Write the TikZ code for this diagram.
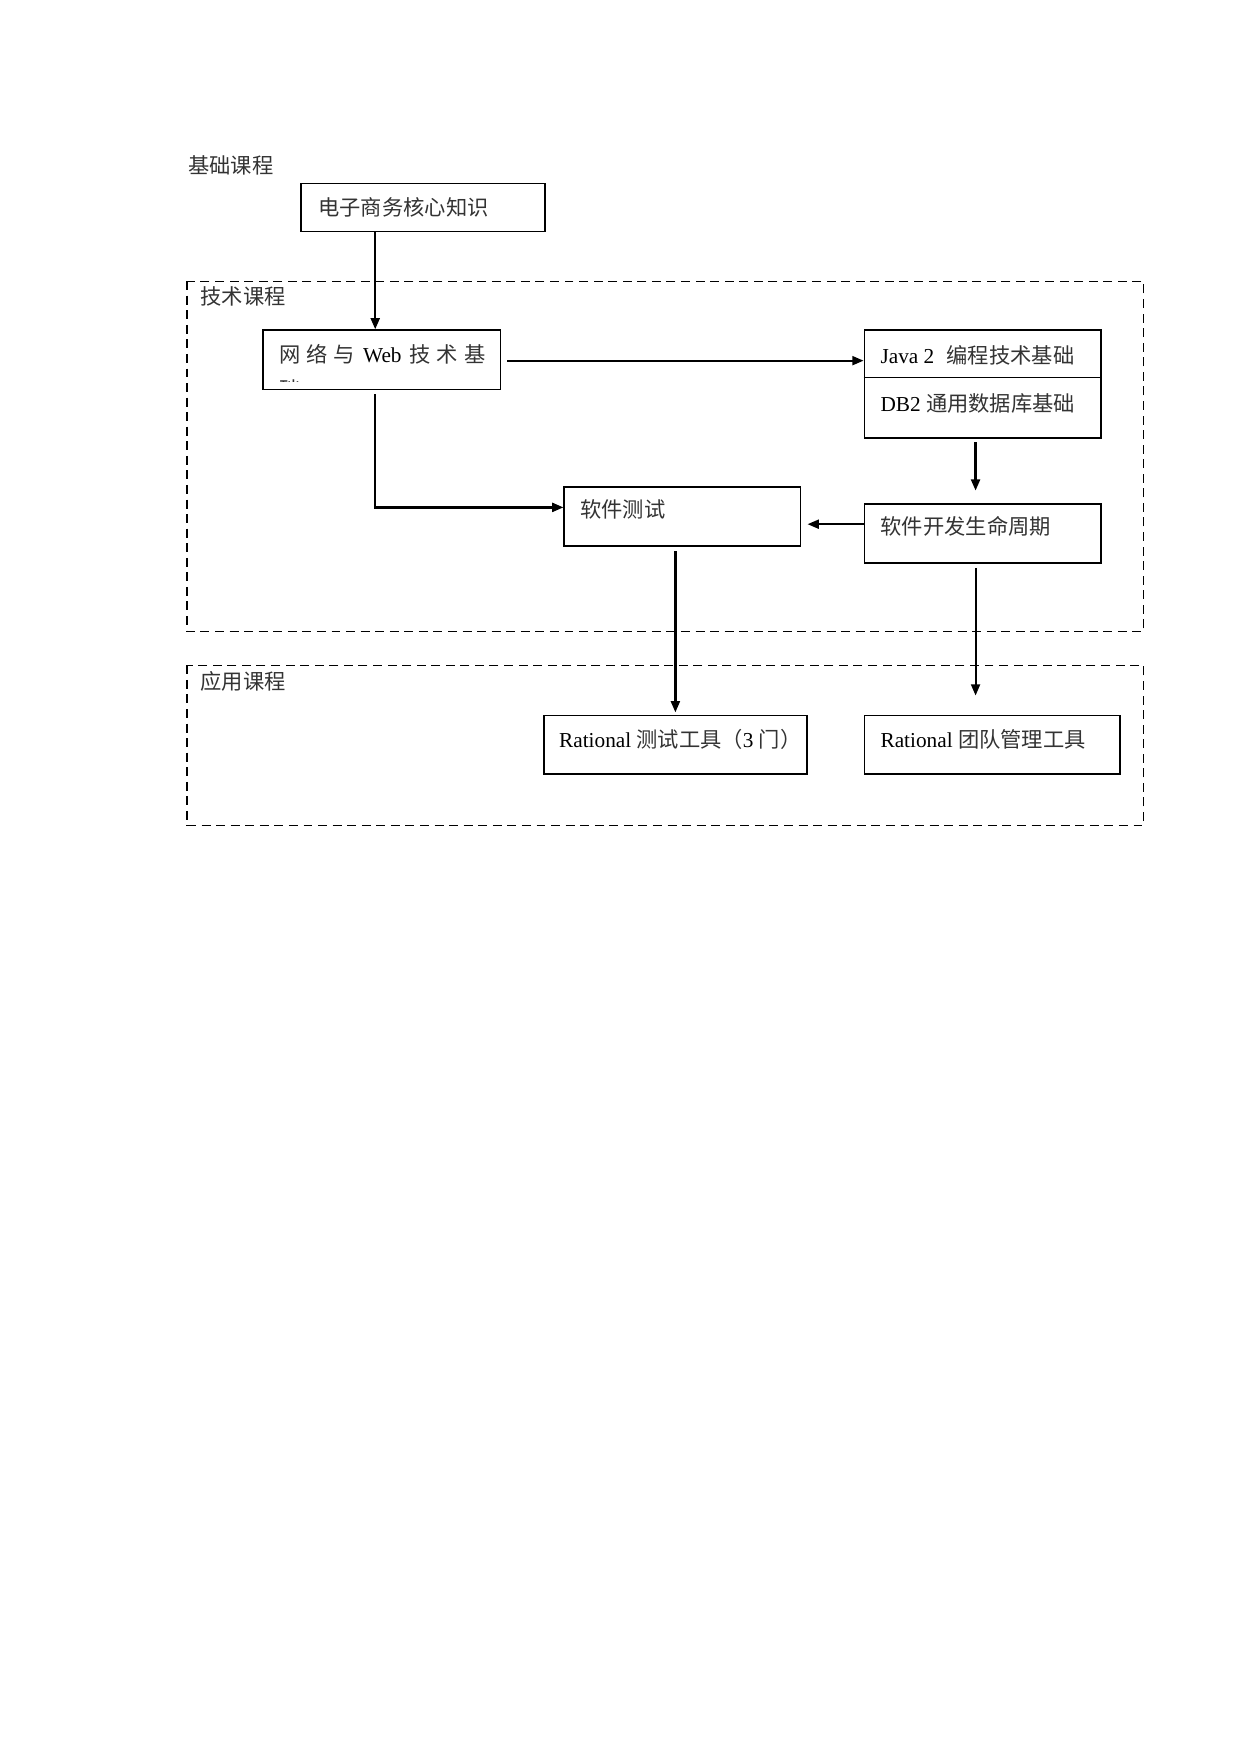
\documentclass[tikz,border=0pt]{standalone}
\usepackage{fontspec}
\setmainfont{Liberation Serif}
\newfontfamily\cjk{Noto Sans CJK SC}
\usetikzlibrary{arrows.meta}
\newcommand{\zh}[1]{{\cjk\fontsize{19}{22}\selectfont\color{black!80}#1}}
\begin{document}
\begin{tikzpicture}[x=1pt,y=-1pt,
  box/.style={draw, line width=1.5pt, inner sep=0pt, anchor=north west},
  grp/.style={draw, dash pattern=on 8pt off 5pt, line width=1.1pt},
  lbl/.style={anchor=west, inner sep=0pt, font=\fontsize{19}{22}\selectfont\cjk, text=black!80},
  txt/.style={anchor=west, inner sep=0pt, font=\fontsize{19}{22}\selectfont},
  arr/.style={-{Triangle[length=10pt,width=8pt]}, line width=2pt},
  tarr/.style={-{Triangle[length=10pt,width=8pt]}, line width=1.7pt}]
\useasboundingbox (0,0) rectangle (1108,1566);

% groups
\draw[grp] (167,251) rectangle (1021,564);
\draw[grp] (167,594) rectangle (1021,737);
\node[lbl] (g0) at (168,148) {基础课程};
\node[lbl] (g1) at (179,265) {技术课程};
\node[lbl] (g2) at (179,608) {应用课程};

% boxes
\node[box, minimum width=218pt, minimum height=43pt] (A) at (268,163) {};
\node[box, minimum width=212pt, minimum height=53pt] (B) at (234,294) {};
\node[box, minimum width=211pt, minimum height=96pt] (J) at (771,294) {};
\node[box, minimum width=211pt, minimum height=53pt] (T) at (503,434) {};
\node[box, minimum width=211pt, minimum height=53pt] (D) at (771,449) {};
\node[box, minimum width=235pt, minimum height=52pt] (R1) at (485,638) {};
\node[box, minimum width=228pt, minimum height=52pt] (R2) at (771,638) {};
\draw[line width=1.2pt] (J.west |- 0,337) -- (J.east |- 0,337);

% texts
\node[lbl] (tA) at (284,185) {电子商务核心知识};
\node[txt] (tB) at (249,316) {\zh{网\hspace{5.5pt}络\hspace{5.5pt}与}\hspace{7pt}Web\hspace{7pt}\zh{技\hspace{5.5pt}术\hspace{5.5pt}基}};
\begin{scope}
\clip (236,296) rectangle (444,340.5);
\node[lbl] (tB2) at (249,348) {础};
\end{scope}
\node[txt] (tJ) at (786,317) {Java 2\hspace{11pt}\zh{编程技术基础}};
\node[txt] (tJ2) at (786,360) {DB2 \zh{通用数据库基础}};
\node[lbl] (tT) at (518,455) {软件测试};
\node[lbl] (tD) at (786,470) {软件开发生命周期};
\node[txt] (tR1) at (499,660) {Rational \zh{测试工具（}3 \zh{门）}};
\node[txt] (tR2) at (786,660) {Rational \zh{团队管理工具}};

% connector coordinates
\coordinate (xa) at (335,0);
\coordinate (y1) at (0,322);
\coordinate (y2) at (0,453);
\coordinate (y3) at (0,468);
\coordinate (bB) at (335,352);
\coordinate (eB) at (453,322);
\coordinate (bJ) at (871,395);
\coordinate (eJ) at (871,438);
\coordinate (eT) at (721,468);
\coordinate (bT) at (603,492);
\coordinate (eR1) at (603,636);
\coordinate (bD) at (871,507);
\coordinate (eR2) at (871,621);

% connectors
\draw[arr] (xa |- A.south) -- (xa |- B.north);
\draw[tarr] (eB) -- (J.west |- y1);
\draw[arr] (bB) -- (bB |- y2) -- (T.west |- y2);
\draw[arr] (bJ) -- (eJ);
\draw[tarr] (D.west |- y3) -- (eT);
\draw[arr] (bT) -- (eR1);
\draw[tarr] (bD) -- (eR2);
\end{tikzpicture}
\end{document}
